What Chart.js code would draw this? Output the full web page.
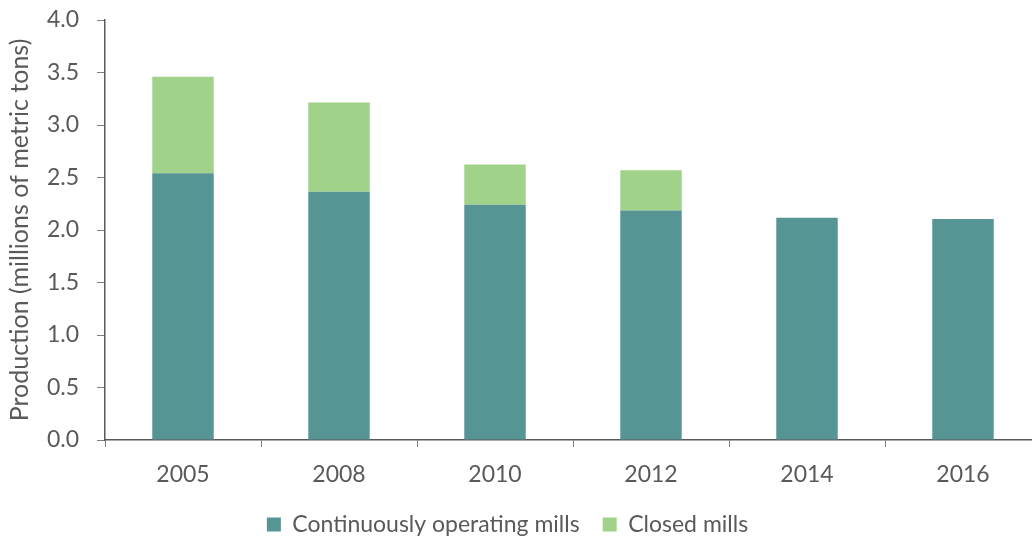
<!DOCTYPE html>
<html>
<head>
<meta charset="utf-8">
<script src="https://cdn.jsdelivr.net/npm/chart.js@4/dist/chart.umd.min.js"></script>
<style>
  html, body { margin: 0; padding: 0; background: #fff; overflow: hidden; }
  #wrap { width: 1045px; height: 539px; position: relative; }
</style>
</head>
<body>
<div id="wrap"><canvas id="c" width="1045" height="539"></canvas></div>
<script>
const categories = ['2005', '2008', '2010', '2012', '2014', '2016'];
const continuousMills = [2.54, 2.365, 2.24, 2.185, 2.117, 2.105];
const closedMills = [0.92, 0.85, 0.385, 0.383, 0, 0];
const yTicks = [0, 0.5, 1.0, 1.5, 2.0, 2.5, 3.0, 3.5, 4.0];

const textColor = '#595959';
const fontFamily = 'Lato, "Open Sans", "Liberation Sans", sans-serif';

const legendShift = {
  id: 'legendShift',
  afterLayout(chart) {
    if (chart.legend) {
      chart.legend.left -= 13;
      chart.legend.right -= 13;
    }
  }
};

new Chart(document.getElementById('c'), {
  type: 'bar',
  data: {
    labels: categories,
    datasets: [
      {
        label: 'Continuously operating mills',
        data: continuousMills,
        backgroundColor: '#579494',
        borderWidth: 0,
        barPercentage: 0.394,
        categoryPercentage: 1.0
      },
      {
        label: 'Closed mills',
        data: closedMills,
        backgroundColor: '#a0d28a',
        borderWidth: 0,
        barPercentage: 0.394,
        categoryPercentage: 1.0
      }
    ]
  },
  plugins: [legendShift],
  options: {
    responsive: false,
    animation: false,
    devicePixelRatio: 1,
    layout: { padding: { left: 0, right: 4, top: 20, bottom: 0 } },
    plugins: {
      tooltip: { enabled: false },
      legend: {
        position: 'bottom',
        maxHeight: 49,
        labels: {
          color: textColor,
          font: { family: fontFamily, size: 23 },
          boxWidth: 14,
          boxHeight: 14,
          padding: 23
        }
      }
    },
    scales: {
      x: {
        stacked: true,
        offset: true,
        grid: {
          offset: true,
          drawOnChartArea: false,
          drawTicks: true,
          tickLength: 7,
          tickColor: '#7f7f7f',
          tickWidth: 1
        },
        border: { display: true, color: '#595959', width: 1.5 },
        ticks: {
          color: textColor,
          font: { family: fontFamily, size: 23 },
          padding: 14
        },
        afterFit: (s) => { s.height = 50; }
      },
      y: {
        stacked: true,
        min: 0,
        max: 4,
        afterBuildTicks: (s) => { s.ticks = yTicks.map(v => ({ value: v })); },
        grid: {
          drawOnChartArea: false,
          drawTicks: true,
          tickLength: 8,
          tickColor: '#7f7f7f',
          tickWidth: 1
        },
        border: { display: true, color: '#595959', width: 1.5 },
        ticks: {
          color: textColor,
          font: { family: fontFamily, size: 23 },
          padding: 18,
          callback: (v) => Number(v).toFixed(1)
        },
        title: {
          display: true,
          text: 'Production (millions of metric tons)',
          color: textColor,
          font: { family: fontFamily, size: 25 },
          padding: { top: 5, bottom: 0 }
        },
        afterFit: (s) => { s.width = 105; s.paddingTop = 0; s.paddingBottom = 0; }
      }
    }
  }
});
</script>
</body>
</html>
